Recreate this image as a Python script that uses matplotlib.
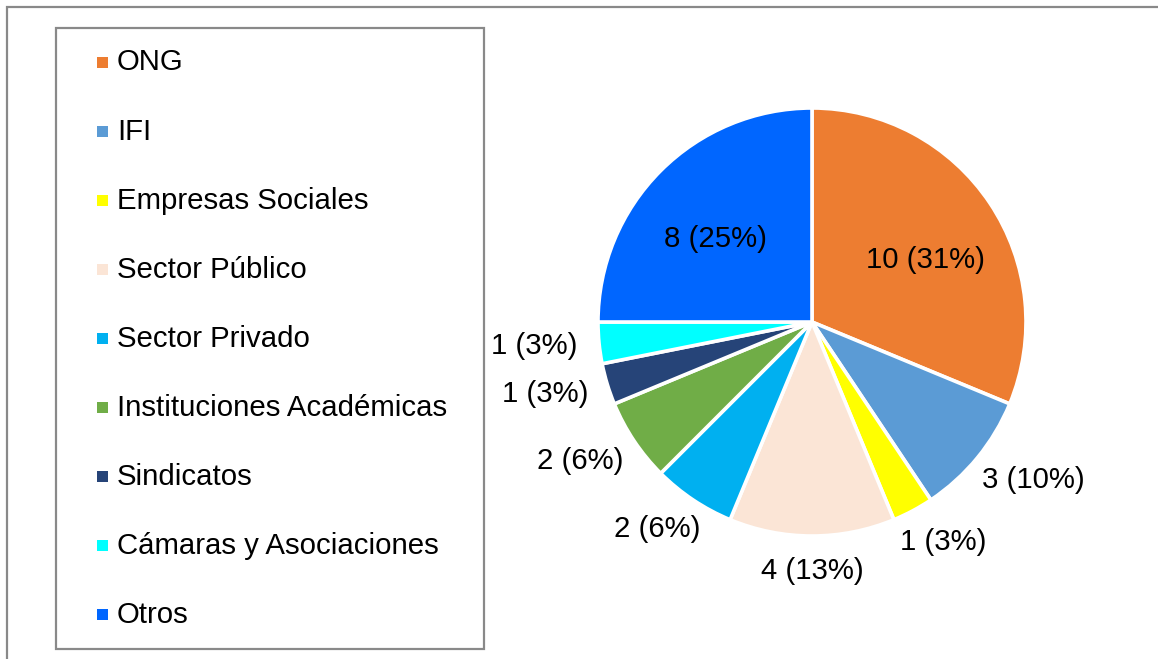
import numpy as np
import matplotlib
matplotlib.use("Agg")
import matplotlib.pyplot as plt
from matplotlib.patches import Rectangle

categories = ["ONG", "IFI", "Empresas Sociales", "Sector Público", "Sector Privado",
              "Instituciones Académicas", "Sindicatos", "Cámaras y Asociaciones", "Otros"]
counts = [10, 3, 1, 4, 2, 2, 1, 1, 8]
pct_labels = ["31%", "10%", "3%", "13%", "6%", "6%", "3%", "3%", "25%"]
colors = ["#ED7D31", "#5B9BD5", "#FFFF00", "#FBE5D6", "#00B0F0",
          "#70AD47", "#264478", "#00FFFF", "#0066FF"]
inside = [True, False, False, False, False, False, False, False, True]

plt.rcParams['font.family'] = ['Liberation Sans', 'DejaVu Sans']

W, H = 1158, 659
fig = plt.figure(figsize=(W / 100, H / 100), dpi=100)
fig.patch.set_facecolor("white")

# outer frame
fig.add_artist(Rectangle((7 / W, -0.05), 1.1, 1 - 7 / H + 0.05, transform=fig.transFigure,
                         fill=False, edgecolor="#898989", linewidth=1.6))

# legend box
lx0, ly0, lx1, ly1 = 56, 28, 484, 649
fig.add_artist(Rectangle((lx0 / W, 1 - ly1 / H), (lx1 - lx0) / W, (ly1 - ly0) / H,
                         transform=fig.transFigure, fill=False,
                         edgecolor="#898989", linewidth=1.6))
FS = 21.2
row0, step = 62, 69.1
for i, (cat, col) in enumerate(zip(categories, colors)):
    yc = row0 + i * step
    fig.add_artist(Rectangle((97 / W, 1 - (yc + 5.5) / H), 11 / W, 11 / H,
                             transform=fig.transFigure, facecolor=col, edgecolor="none"))
    fig.text(117 / W, 1 - (yc + 0.5) / H, cat, fontsize=FS, color="black",
             ha="left", va="center")

# pie
cx, cy, R = 812, 322, 214
ax = fig.add_axes([(cx - R) / W, (H - cy - R) / H, 2 * R / W, 2 * R / H])
wedges, _ = ax.pie(counts, colors=colors, startangle=90, counterclock=False,
                   radius=1, wedgeprops=dict(edgecolor="white", linewidth=2.6))
ax.set_xlim(-1, 1)
ax.set_ylim(-1, 1)
ax.axis("off")

texts = []
for w, c, p, ins in zip(wedges, counts, pct_labels, inside):
    t = ax.text(0, 0, f"{c} ({p})", fontsize=FS, ha="center", va="center", color="black")
    texts.append((w, t, ins))

fig.canvas.draw()
renderer = fig.canvas.get_renderer()
for w, t, ins in texts:
    ang = np.deg2rad((w.theta1 + w.theta2) / 2)
    dx, dy = np.cos(ang), np.sin(ang)
    bb = t.get_window_extent(renderer)
    tw, th = bb.width / R, bb.height / R
    if ins:
        t.set_position((dx * 0.64, dy * 0.64 - th * 0.5))
    else:
        t.set_position((dx * 1.10 + dx * tw / 2, dy * 1.10 + dy * th / 2))

fig.savefig("out.png", dpi=100, facecolor="white")
